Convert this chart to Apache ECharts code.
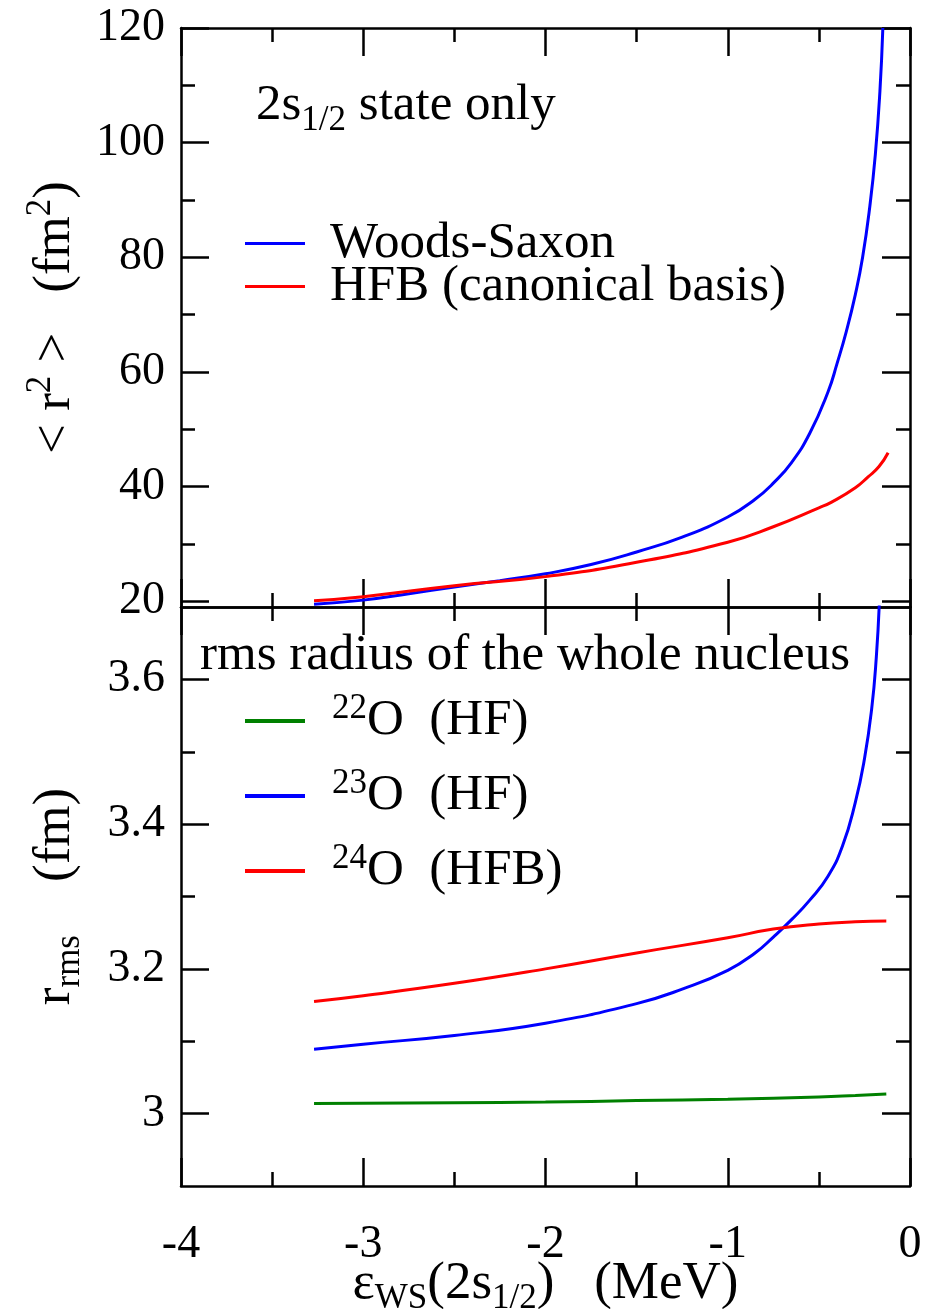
<!DOCTYPE html>
<html>
<head>
<meta charset="utf-8">
<script src="https://cdn.jsdelivr.net/npm/echarts@6/dist/echarts.min.js"></script>
<style>
  html, body { margin: 0; padding: 0; background: #fff; }
  #main { width: 929px; height: 1309px; }
</style>
</head>
<body>
<div id="main"></div>
<script>
// upper panel: <r^2> of the 2s1/2 state
const wsEps = [-3.27, -3.0, -2.75, -2.5, -2.25, -2.0, -1.75, -1.5, -1.25, -1.0, -0.85, -0.75, -0.65, -0.55, -0.45, -0.4, -0.35, -0.3, -0.26, -0.22, -0.19, -0.165, -0.149];
const wsR2 = [19.5, 20.2, 21.3, 22.5, 23.6, 24.8, 26.4, 28.6, 31.2, 34.7, 37.8, 40.6, 44.2, 49.3, 56.5, 61.5, 67, 73.5, 80, 89, 98, 109, 120];
const hfbEps = [-3.27, -3.0, -2.5, -2.0, -1.5, -1.0, -0.75, -0.5, -0.43, -0.3, -0.23, -0.17, -0.12];
const hfbR2 = [20.1, 20.8, 22.7, 24.3, 26.8, 30.3, 33.0, 36.3, 37.3, 39.8, 41.7, 43.5, 45.9];

// lower panel: rms radius of the whole nucleus
const o22Eps = [-3.27, -2.5, -2.0, -1.5, -1.0, -0.5, -0.3, -0.13];
const o22Rms = [3.014, 3.015, 3.016, 3.018, 3.020, 3.023, 3.025, 3.027];
const o23Eps = [-3.27, -3.0, -2.5, -2.0, -1.5, -1.25, -1.0, -0.85, -0.75, -0.65, -0.55, -0.45, -0.37, -0.3, -0.25, -0.21, -0.185, -0.168];
const o23Rms = [3.089, 3.096, 3.108, 3.125, 3.152, 3.172, 3.198, 3.222, 3.244, 3.268, 3.295, 3.328, 3.37, 3.43, 3.49, 3.56, 3.63, 3.707];
const o24Eps = [-3.27, -3.0, -2.5, -2.0, -1.5, -1.0, -0.75, -0.5, -0.3, -0.13];
const o24Rms = [3.155, 3.163, 3.18, 3.2, 3.222, 3.243, 3.255, 3.262, 3.265, 3.266];

// ticks
const topMajor = [20, 40, 60, 80, 100, 120];
const topMinor = [30, 50, 70, 90, 110];
const botMajor = [3.0, 3.2, 3.4, 3.6];
const botMinor = [3.1, 3.3, 3.5];

const FONT = 'Liberation Serif';
const AXIS_W = 2.5;

const pairs = (xs, ys) => xs.map((x, i) => [x, ys[i]]);

const rich = {
  sup: { fontFamily: FONT, fontSize: 35, verticalAlign: 'top', lineHeight: 35, color: '#000' },
  sub: { fontFamily: FONT, fontSize: 35, verticalAlign: 'bottom', lineHeight: 35, color: '#000' }
};

const chart = echarts.init(document.getElementById('main'));

function xAxes(grid, pos, labels) {
  return {
    type: 'value', gridIndex: grid, position: pos, min: -4, max: 0, interval: 1,
    axisLine: { show: true, onZero: false, lineStyle: { color: '#000', width: AXIS_W } },
    axisTick: { show: true, inside: true, length: 28, lineStyle: { color: '#000', width: AXIS_W } },
    minorTick: { show: true, splitNumber: 2, length: 14, lineStyle: { color: '#000', width: AXIS_W } },
    axisLabel: labels ? { show: true, fontFamily: FONT, fontSize: 46, color: '#000', margin: 36 } : { show: false },
    splitLine: { show: false }
  };
}

function yAxis(grid, pos, min, max, ticks, len, labels) {
  const ax = {
    type: 'value', gridIndex: grid, position: pos, min: min, max: max,
    axisLine: { show: len === 28, onZero: false, lineStyle: { color: '#000', width: AXIS_W } },
    axisTick: { show: true, inside: true, length: len, customValues: ticks, lineStyle: { color: '#000', width: AXIS_W } },
    axisLabel: { show: false },
    splitLine: { show: false }
  };
  if (labels) {
    ax.axisLabel = {
      show: true, customValues: ticks, fontFamily: FONT, fontSize: 46, color: '#000', margin: 16,
      formatter: v => String(+v.toFixed(2))
    };
  }
  return ax;
}

const option = {
  backgroundColor: '#fff',
  animation: false,
  grid: [
    { left: 181, right: 19, top: 28, height: 579, outerBoundsMode: 'none' },
    { left: 181, right: 19, top: 607, height: 579, outerBoundsMode: 'none' }
  ],
  xAxis: [
    xAxes(0, 'bottom', false),
    xAxes(0, 'top', false),
    Object.assign(xAxes(1, 'bottom', true), {
      name: 'ε{sub|WS}(2s{sub|1/2})   (MeV)',
      nameLocation: 'middle', nameGap: 66, nameMoveOverlap: false,
      nameTextStyle: { fontFamily: FONT, fontSize: 53, color: '#000', lineHeight: 64, rich: rich }
    }),
    xAxes(1, 'top', false)
  ],
  yAxis: [
    Object.assign(yAxis(0, 'left', 19, 120, topMajor, 28, true), {
      name: '< r{sup|2} >   (fm{sup|2})',
      nameLocation: 'middle', nameRotate: 90, nameGap: 94, nameMoveOverlap: false,
      nameTextStyle: { fontFamily: FONT, fontSize: 53, color: '#000', lineHeight: 64, rich: rich }
    }),
    yAxis(0, 'left', 19, 120, topMinor, 14, false),
    yAxis(0, 'right', 19, 120, topMajor, 28, false),
    yAxis(0, 'right', 19, 120, topMinor, 14, false),
    Object.assign(yAxis(1, 'left', 2.9, 3.7, botMajor, 28, true), {
      name: 'r{sub|rms}    (fm)',
      nameLocation: 'middle', nameRotate: 90, nameGap: 94, nameMoveOverlap: false,
      nameTextStyle: { fontFamily: FONT, fontSize: 53, color: '#000', lineHeight: 64, rich: rich }
    }),
    yAxis(1, 'left', 2.9, 3.7, botMinor, 14, false),
    yAxis(1, 'right', 2.9, 3.7, botMajor, 28, false),
    yAxis(1, 'right', 2.9, 3.7, botMinor, 14, false)
  ],
  legend: [
    {
      data: ['Woods-Saxon', 'HFB (canonical basis)'],
      orient: 'vertical', left: 240, top: 213, itemGap: -8,
      icon: 'rect', itemWidth: 60, itemHeight: 3,
      textStyle: { fontFamily: FONT, fontSize: 51, color: '#000', lineHeight: 43, padding: [0, 0, 0, 20] }
    },
    {
      data: ['22O (HF)', '23O (HF)', '24O (HFB)'],
      orient: 'vertical', left: 240, top: 686, itemGap: 15,
      icon: 'rect', itemWidth: 60, itemHeight: 4,
      formatter: name => '{sup|' + name.slice(0, 2) + '}' + name.slice(2).replace(' ', '  '),
      textStyle: { fontFamily: FONT, fontSize: 51, color: '#000', lineHeight: 60, padding: [0, 0, 0, 22], rich: rich }
    }
  ],
  graphic: [
    {
      type: 'text', left: 256, top: 74,
      style: {
        text: '2s{sub|1/2} state only',
        font: '51px "Liberation Serif"', fill: '#000', lineHeight: 64,
        rich: { sub: { fontFamily: FONT, fontSize: 35, verticalAlign: 'bottom', lineHeight: 35, fill: '#000' } }
      }
    },
    {
      type: 'text', left: 200, top: 630,
      style: { text: 'rms radius of the whole nucleus', font: '51px "Liberation Serif"', fill: '#000' }
    }
  ],
  series: [
    { name: 'Woods-Saxon', type: 'line', xAxisIndex: 0, yAxisIndex: 0, data: pairs(wsEps, wsR2),
      showSymbol: false, smooth: true, color: '#0000ff', lineStyle: { width: 3 } },
    { name: 'HFB (canonical basis)', type: 'line', xAxisIndex: 0, yAxisIndex: 0, data: pairs(hfbEps, hfbR2),
      showSymbol: false, smooth: true, color: '#ff0000', lineStyle: { width: 3 } },
    { name: '22O (HF)', type: 'line', xAxisIndex: 2, yAxisIndex: 4, data: pairs(o22Eps, o22Rms),
      showSymbol: false, smooth: true, color: '#008000', lineStyle: { width: 3 } },
    { name: '23O (HF)', type: 'line', xAxisIndex: 2, yAxisIndex: 4, data: pairs(o23Eps, o23Rms),
      showSymbol: false, smooth: true, color: '#0000ff', lineStyle: { width: 3 } },
    { name: '24O (HFB)', type: 'line', xAxisIndex: 2, yAxisIndex: 4, data: pairs(o24Eps, o24Rms),
      showSymbol: false, smooth: true, color: '#ff0000', lineStyle: { width: 3 } }
  ]
};

chart.setOption(option);
</script>
</body>
</html>
